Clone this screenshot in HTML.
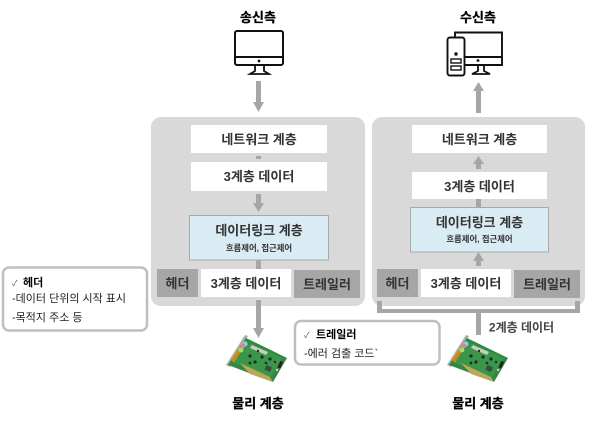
<!DOCTYPE html>
<html lang="ko"><head><meta charset="utf-8"><title>데이터링크 계층</title>
<style>
html,body{margin:0;padding:0;background:#fff}
svg{display:block}
text{font-family:"Liberation Sans","Noto Sans CJK KR",sans-serif}
.b{font-weight:700;text-anchor:middle;font-size:13px;fill:#333}
.k{font-weight:700;text-anchor:middle;font-size:13px;fill:#000;stroke:#000;stroke-width:.25}
.c{font-size:11px;fill:#222}
.cb{font-size:11px;font-weight:700;fill:#000}
.s{font-weight:700;text-anchor:middle;font-size:8.4px;fill:#333}
</style></head><body>
<svg width="601" height="431" viewBox="0 0 601 431" xmlns="http://www.w3.org/2000/svg">
<defs>
<g id="card">
<polygon points="245,335 248,336 230,367 226,365" fill="#aaa"/>
<polygon points="246,338 287,358 273,382 228,365" fill="#2f8a40"/>
<polygon points="250,343 283,358 271,377 234,363" fill="#3a9649"/>
<polygon points="252,345 268,352 266,355 250,348" fill="#c9cec2"/>
<polygon points="240,363 270,377 273,382 250,374" fill="#b9a858"/>
<polygon points="231,360 240,347 243,349 234,363" fill="#c98a1a"/>
<circle cx="245" cy="344" r="2.6" fill="#8ad0e8"/>
<circle cx="243" cy="346" r="2.4" fill="#e77ba0"/>
<circle cx="241" cy="350" r="2.5" fill="#a8dc6a"/>
<rect x="279" y="361" width="3" height="7" fill="#222" transform="rotate(25 280 364)"/>
<rect x="265" y="366" width="6" height="5" fill="#3d4a42" transform="rotate(25 268 369)"/>
<g fill="#1f2c24">
<circle cx="250" cy="356" r="1.6"/><circle cx="255" cy="362" r="1.6"/>
<circle cx="262" cy="357" r="1.6"/><circle cx="270" cy="359" r="1.6"/>
<circle cx="250" cy="363" r="1.4"/><circle cx="258" cy="351" r="1.2"/>
<circle cx="266" cy="363" r="1.3"/><circle cx="275" cy="362" r="1.2"/>
</g>
<circle cx="277" cy="370" r="1.2" fill="#ccc"/>
</g>
</defs>

<!-- panels -->
<rect x="151" y="117" width="214" height="189" rx="10" fill="#d9d9d9"/>
<rect x="372" y="117" width="213" height="189" rx="10" fill="#d9d9d9"/>

<!-- top headings -->
<text class="k" x="258" y="22">송신측</text>
<text class="k" x="478" y="22">수신측</text>

<!-- sender monitor -->
<g fill="none" stroke="#111" stroke-width="2">
<rect x="235" y="31" width="48" height="34" rx="2"/>
<path d="M235 57H283"/>
<path d="M255 65V71L250 74H269L264 71V65" stroke-width="1.800"/>
</g>
<circle cx="259" cy="61" r="1.400" fill="#111"/>

<!-- receiver desktop -->
<g fill="none" stroke="#111" stroke-width="1.900">
<path d="M455 37V32.500H502V65H465"/>
<path d="M465 57H502"/>
<path d="M478 65V71L472 74H490L484 71V65" stroke-width="1.800"/>
<rect x="447.500" y="37.500" width="17" height="38" rx="2.500" fill="#fff"/>
<rect x="451" y="59" width="10" height="4" stroke-width="1.400"/>
<rect x="451" y="66" width="10" height="4" stroke-width="1.400"/>
</g>
<circle cx="456" cy="54" r="1.700" fill="#111"/>
<circle cx="478" cy="60.500" r="1.400" fill="#111"/>

<!-- arrows -->
<g fill="#a6a6a6">
<path d="M256 81H261V102H264L258.500 112L253 102H256Z"/>
<path d="M476 113H481V91H484L478.500 82L473 91H476Z"/>
<rect x="256" y="156" width="5" height="3"/>
<path d="M256 194H261V203H264L258.500 212L253 203H256Z"/>
<rect x="256" y="260" width="5" height="9"/>
<path d="M256 300H261V328H264L258.500 338L253 328H256Z"/>
<path d="M476 169H481V164H484L478.500 156L473 164H476V169Z"/>
<rect x="476" y="199" width="5" height="8"/>
<path d="M476 266H481V261H484L478.500 252L473 261H476Z"/>
</g>

<!-- sender boxes -->
<rect x="191" y="125" width="136" height="28" fill="#fff"/>
<text class="b" x="259" y="144">네트워크 계층</text>
<rect x="191" y="162" width="136" height="29" fill="#fff"/>
<text class="b" x="259" y="181">3계층 데이터</text>
<rect x="189.500" y="215.500" width="139" height="44.500" fill="#daecf3" stroke="#a3abae"/>
<text class="b" x="259" y="235">데이터링크 계층</text>
<text class="s" x="259" y="251">흐름제어, 접근제어</text>
<rect x="157" y="269" width="41" height="28" fill="#a6a6a6"/>
<text class="b" x="177.500" y="288">헤더</text>
<rect x="201" y="269" width="90" height="28" fill="#fff"/>
<text class="b" x="246" y="288">3계층 데이터</text>
<rect x="294" y="270" width="66" height="28" fill="#a6a6a6"/>
<text class="b" x="327" y="289">트레일러</text>

<!-- receiver boxes -->
<rect x="412" y="125" width="135" height="28" fill="#fff"/>
<text class="b" x="479.500" y="144">네트워크 계층</text>
<rect x="412" y="172" width="135" height="27" fill="#fff"/>
<text class="b" x="479.500" y="191">3계층 데이터</text>
<rect x="410.500" y="207.500" width="138" height="44.500" fill="#daecf3" stroke="#a3abae"/>
<text class="b" x="479.500" y="227">데이터링크 계층</text>
<text class="s" x="479.500" y="242">흐름제어, 접근제어</text>
<rect x="377" y="269" width="41" height="28" fill="#a6a6a6"/>
<text class="b" x="397.500" y="288">헤더</text>
<rect x="421" y="269" width="90" height="28" fill="#fff"/>
<text class="b" x="466" y="288">3계층 데이터</text>
<rect x="514" y="270" width="66" height="28" fill="#a6a6a6"/>
<text class="b" x="547" y="289">트레일러</text>

<!-- bracket -->
<rect x="382" y="306" width="193" height="3" fill="#fff"/>
<path d="M377 301H382V309H575V301H580V313H481V335H476V313H377Z" fill="#a6a6a6"/>
<text class="b" x="521.500" y="331.500" style="fill:#444;font-size:12px">2계층 데이터</text>

<!-- callouts -->
<rect x="3" y="267.500" width="144" height="63" rx="6" fill="#fff" stroke="#bfbfbf" stroke-width="2.500"/>
<text x="12" y="286" font-size="8" fill="#555">✓</text>
<text class="cb" x="23" y="286">헤더</text>
<text class="c" x="12" y="302">-데이터 단위의 시작 표시</text>
<text class="c" x="12" y="321">-목적지 주소 등</text>

<rect x="295" y="321" width="144.500" height="43.500" rx="6" fill="#fff" stroke="#bfbfbf" stroke-width="2.500"/>
<text x="304" y="338" font-size="8" fill="#555">✓</text>
<text class="cb" x="316" y="338">트레일러</text>
<text class="c" x="304" y="357">-에러 검출 코드`</text>

<!-- cards -->
<use href="#card"/>
<use href="#card" x="221"/>

<text class="k" x="258" y="408">물리 계층</text>
<text class="k" x="478" y="408">물리 계층</text>
</svg>
</body></html>
